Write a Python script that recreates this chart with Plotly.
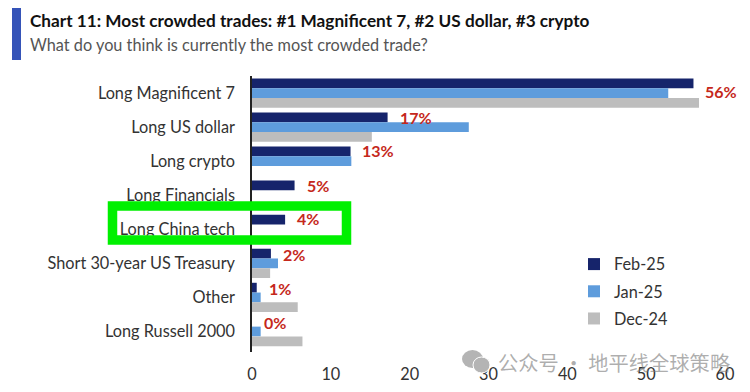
import plotly.graph_objects as go

categories = ["Long Magnificent 7", "Long US dollar", "Long crypto", "Long Financials",
              "Long China tech", "Short 30-year US Treasury", "Other", "Long Russell 2000"]
feb25 = [56.0, 17.2, 12.5, 5.4, 4.2, 2.4, 0.6, 0.0]
jan25 = [52.8, 27.5, 12.6, None, None, 3.3, 1.1, 1.1]
dec24 = [56.7, 15.2, None, None, None, 2.3, 5.8, 6.4]
labels = ["56%", "17%", "13%", "5%", "4%", "2%", "1%", "0%"]
label_x = [59.5, 20.8, 16.0, 8.4, 7.1, 5.3, 3.5, 2.9]
label_dy = [-2, -10, -11, -10, -11, -9, -9, -9]

TXT = "Lato"
def X(p): return (p - 252) / 473
def Y(p): return (352 - p) / 276

fig = go.Figure()
for name, vals, col in [("Feb-25", feb25, "#16246b"), ("Jan-25", jan25, "#5e9cdc"), ("Dec-24", dec24, "#bdbdbd")]:
    fig.add_bar(y=categories, x=vals, name=name, orientation="h", marker=dict(color=col, line_width=0), legendgroup=name)

anns = []
for c, t, x, dy in zip(categories, labels, label_x, label_dy):
    anns.append(dict(x=x, y=c, text=t, showarrow=False, xref="x", yref="y", yshift=-dy,
                     font=dict(family=TXT, size=16, color="#c5281c", weight="bold")))
anns += [
    dict(x=X(29), y=Y(20), xref="paper", yref="paper", xanchor="left", yanchor="middle", showarrow=False, xshift=-1,
         text="<b>Chart 11: Most crowded trades: #1 Magnificent 7, #2 US dollar, #3 crypto</b>",
         font=dict(family=TXT, size=17.2, color="#111111")),
    dict(x=X(29), y=Y(45), xref="paper", yref="paper", xanchor="left", yanchor="middle", showarrow=False, xshift=-1,
         text="What do you think is currently the most crowded trade?",
         font=dict(family=TXT, size=16.3, color="#555555")),
    dict(x=X(496), y=Y(362), xref="paper", yref="paper", xanchor="left", yanchor="middle", showarrow=False,
         text="公众号 · 地平线全球策略",
         font=dict(family="Noto Sans CJK SC", size=20.3, color="rgba(120,120,120,0.6)")),
]
def rect(x0, y0, x1, y1, **kw):
    return dict(type="rect", xref="paper", yref="paper", x0=X(x0), x1=X(x1), y0=Y(y0), y1=Y(y1), **kw)
shapes = [
    rect(12, 5, 21, 60, fillcolor="#3553b8", line_width=0),
    rect(112.5, 206, 346.5, 240, fillcolor="rgba(0,0,0,0)", line=dict(color="#00f000", width=9.5), layer="above"),
    dict(rect(462, 350, 483, 368, fillcolor="#b4b4b4", line_width=0), type="circle"),
    dict(rect(473, 357, 490, 373, fillcolor="#b4b4b4", line=dict(color="white", width=1)), type="circle"),
]
fig.update_layout(
    width=742, height=384, margin=dict(l=244, r=25, t=68, b=40, autoexpand=False),
    plot_bgcolor="white", paper_bgcolor="white", barmode="group", bargap=0.14, bargroupgap=0,
    font=dict(family=TXT, size=16.3, color="#333333"),
    annotations=anns, shapes=shapes,
    legend=dict(x=X(574), y=Y(247), xref="paper", yref="paper", xanchor="left", yanchor="top",
                bgcolor="rgba(0,0,0,0)", tracegroupgap=3, traceorder="grouped", font=dict(family=TXT, size=16.3, color="#333333")),
)
fig.update_xaxes(range=[0, 60], dtick=10, showgrid=False, zeroline=False, showline=False, ticks="", ticklabelstandoff=11)
fig.update_yaxes(autorange="reversed", showgrid=False, showline=True, linecolor="#222222", linewidth=1.5, ticks="", ticklabelstandoff=12, zeroline=False)
fig.write_html("out.html")
